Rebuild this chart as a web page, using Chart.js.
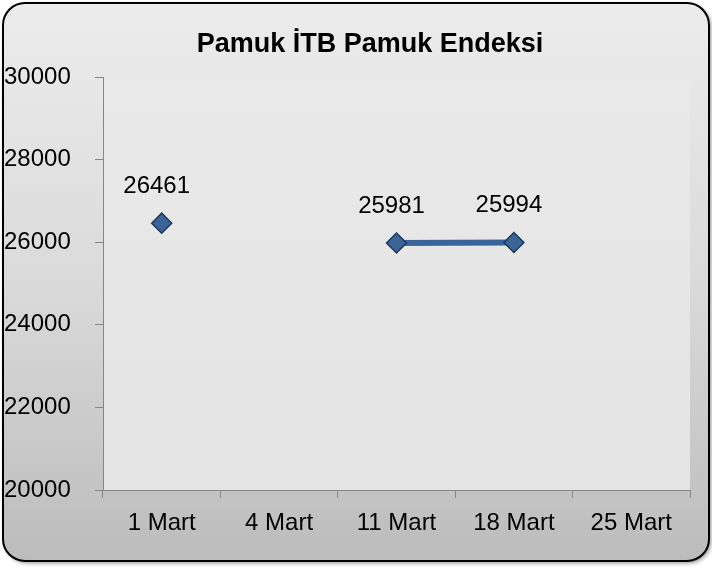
<!DOCTYPE html>
<html>
<head>
<meta charset="utf-8">
<script src="https://cdn.jsdelivr.net/npm/chart.js@4.4.1/dist/chart.umd.min.js"></script>
<style>
  html, body { margin: 0; padding: 0; background: #ffffff; }
  #wrap { width: 712px; height: 570px; }
</style>
</head>
<body>
<div id="wrap"><canvas id="graphCanvas"></canvas></div>
<script>
// chart data
var dates = ['1 Mart', '4 Mart', '11 Mart', '18 Mart', '25 Mart'];
var index = [26461, null, 25981, 25994, null];
var yTicks = [20000, 22000, 24000, 26000, 28000, 30000];
var chartTitle = 'Pamuk İTB Pamuk Endeksi';

var FONT = "'Liberation Sans', Arial, sans-serif";

// rounded frame + gradient background + title
var frame = {
    id: 'frame',
    beforeDraw: function (chart) {
        var ctx = chart.ctx;
        var a = chart.chartArea;
        ctx.save();
        ctx.fillStyle = '#ffffff';
        ctx.fillRect(0, 0, chart.width, chart.height);

        var x = 3, y = 3, w = 706, h = 558, r = 22;
        ctx.beginPath();
        ctx.roundRect(x, y, w, h, r);
        ctx.shadowColor = 'rgba(0,0,0,0.45)';
        ctx.shadowBlur = 4;
        ctx.shadowOffsetX = 2;
        ctx.shadowOffsetY = 2;
        var g = ctx.createLinearGradient(0, y, 0, y + h);
        g.addColorStop(0, '#ececec');
        g.addColorStop(0.5, '#dadada');
        g.addColorStop(1, '#bcbcbc');
        ctx.fillStyle = g;
        ctx.fill();
        ctx.shadowColor = 'transparent';
        ctx.lineWidth = 2;
        ctx.strokeStyle = '#000000';
        ctx.stroke();

        var pg = ctx.createLinearGradient(0, a.top, 0, a.bottom);
        pg.addColorStop(0, '#e9e9e9');
        pg.addColorStop(1, '#e4e4e4');
        ctx.fillStyle = pg;
        ctx.fillRect(a.left, a.top, a.right - a.left, a.bottom - a.top);

        ctx.font = 'bold 27px ' + FONT;
        ctx.fillStyle = '#000000';
        ctx.textAlign = 'center';
        ctx.textBaseline = 'middle';
        ctx.fillText(chartTitle, 370, 45);
        ctx.restore();
    }
};

// value labels above the markers
var valueLabels = {
    id: 'valueLabels',
    afterDatasetsDraw: function (chart) {
        var ctx = chart.ctx;
        var meta = chart.getDatasetMeta(0);
        ctx.save();
        ctx.font = '24px ' + FONT;
        ctx.fillStyle = '#000000';
        ctx.textAlign = 'center';
        ctx.textBaseline = 'middle';
        meta.data.forEach(function (pt, i) {
            var v = index[i];
            if (v === null) return;
            ctx.fillText(String(v), pt.x - 5, pt.y - 37);
        });
        ctx.restore();
    }
};

new Chart(document.getElementById('graphCanvas'), {
    type: 'line',
    data: {
        labels: dates,
        datasets: [{
            label: chartTitle,
            data: index,
            borderColor: '#3b6599',
            borderWidth: 6,
            pointStyle: 'rectRot',
            pointRadius: 10,
            pointHoverRadius: 10,
            pointBackgroundColor: '#3c6597',
            pointBorderColor: '#1c385c',
            pointBorderWidth: 1.5,
            spanGaps: false,
            tension: 0
        }]
    },
    options: {
        responsive: true,
        maintainAspectRatio: false,
        animation: false,
        events: [],
        layout: { padding: { left: 4, right: 22, top: 77, bottom: 0 } },
        plugins: {
            legend: { display: false },
            tooltip: { enabled: false },
            title: { display: false }
        },
        scales: {
            x: {
                offset: true,
                grid: {
                    offset: true,
                    drawOnChartArea: false,
                    color: '#868686',
                    tickLength: 8
                },
                border: { display: true, color: '#868686', width: 1 },
                ticks: {
                    color: '#000000',
                    font: { family: FONT, size: 24 },
                    padding: 11,
                    maxRotation: 0
                },
                afterFit: function (s) { s.height = 80; }
            },
            y: {
                min: 20000,
                max: 30000,
                afterBuildTicks: function (s) {
                    s.ticks = yTicks.map(function (v) { return { value: v }; });
                },
                grid: {
                    drawOnChartArea: false,
                    color: '#868686',
                    tickLength: 8
                },
                border: { display: true, color: '#868686', width: 1 },
                ticks: {
                    color: '#000000',
                    font: { family: FONT, size: 24 },
                    crossAlign: 'far',
                    padding: 6,
                    callback: function (v) { return String(v); }
                },
                afterFit: function (s) { s.width = 99; }
            }
        }
    },
    plugins: [frame, valueLabels]
});
</script>
</body>
</html>
